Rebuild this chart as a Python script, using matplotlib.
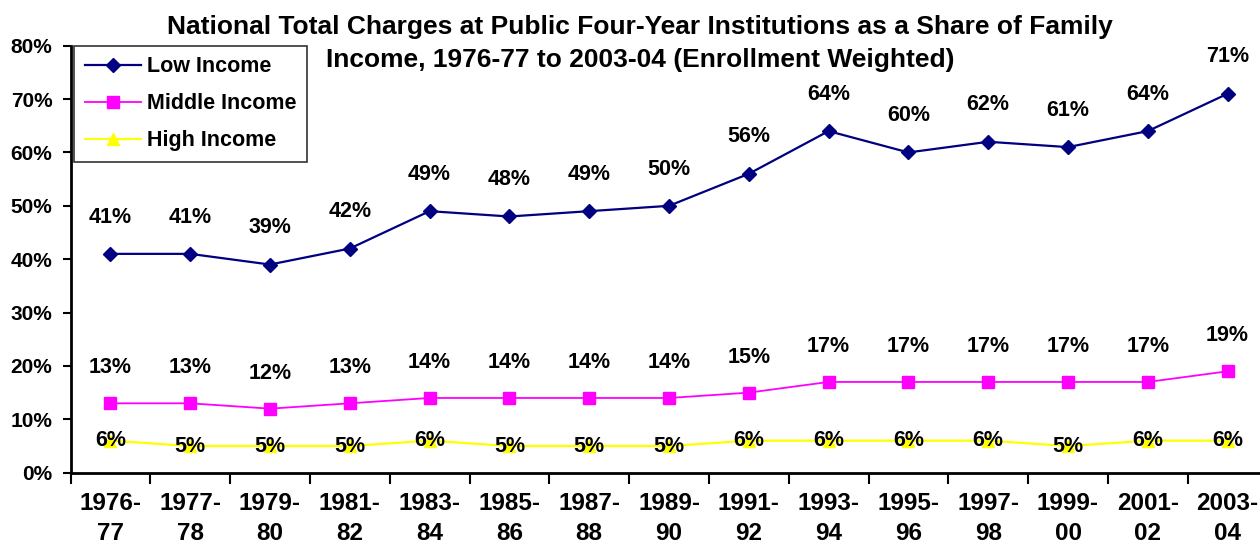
import matplotlib
matplotlib.use("Agg")
import matplotlib.pyplot as plt
import numpy as np

plt.rcParams['font.family'] = ['Liberation Sans', 'DejaVu Sans']
plt.rcParams['font.weight'] = 'bold'

years = ["1976-\n77", "1977-\n78", "1979-\n80", "1981-\n82", "1983-\n84", "1985-\n86",
         "1987-\n88", "1989-\n90", "1991-\n92", "1993-\n94", "1995-\n96", "1997-\n98",
         "1999-\n00", "2001-\n02", "2003-\n04"]
low_income = [41, 41, 39, 42, 49, 48, 49, 50, 56, 64, 60, 62, 61, 64, 71]
middle_income = [13, 13, 12, 13, 14, 14, 14, 14, 15, 17, 17, 17, 17, 17, 19]
high_income = [6, 5, 5, 5, 6, 5, 5, 5, 6, 6, 6, 6, 5, 6, 6]
yticks = [0, 10, 20, 30, 40, 50, 60, 70, 80]

fig = plt.figure(figsize=(12.6, 5.5), dpi=100)
ax = fig.add_axes([70.5/1260, 1-472.7/550, 1197/1260, (472.7-45.7)/550])

x = np.arange(len(years))
ax.plot(x, low_income, color='#000080', lw=1.6, marker='D', ms=7.5, label='Low Income', zorder=3)
ax.plot(x, middle_income, color='#FF00FF', lw=1.3, marker='s', ms=8.5, label='Middle Income', zorder=3)
ax.plot(x, high_income, color='#FFFF00', lw=1.6, marker='^', ms=9, label='High Income', zorder=3)

lab_fs = 15.5
for xi, v in zip(x, low_income):
    ax.annotate(f"{v}%", (xi, v), xytext=(0, 26.5), textcoords='offset points',
                ha='center', va='center', fontsize=lab_fs, fontweight='bold', zorder=5)
for xi, v in zip(x, middle_income):
    ax.annotate(f"{v}%", (xi, v), xytext=(0, 25.5), textcoords='offset points',
                ha='center', va='center', fontsize=lab_fs, fontweight='bold', zorder=5)
for xi, v in zip(x, high_income):
    ax.annotate(f"{v}%", (xi, v), xytext=(0, 0), textcoords='offset points',
                ha='center', va='center', fontsize=lab_fs, fontweight='bold', zorder=5)

ax.set_xlim(-0.5, len(years) - 0.5)
ax.set_ylim(0, 80)
ax.set_yticks(yticks)
ax.set_yticklabels([f"{t}%" for t in yticks], fontsize=15, fontweight='bold')
ax.set_xticks(x)
ax.set_xticklabels(years, fontsize=17.5, fontweight='bold', linespacing=1.38)
ax.set_xticks(np.arange(len(years) + 1) - 0.5, minor=True)
ax.tick_params(axis='x', which='major', length=0, pad=14)
ax.tick_params(axis='x', which='minor', length=8, width=1.5, direction='out')
ax.tick_params(axis='y', length=6, width=1.5, direction='out', pad=7)

for s in ['top', 'right']:
    ax.spines[s].set_visible(False)
for s in ['left', 'bottom']:
    ax.spines[s].set_linewidth(2)
    ax.spines[s].set_color('black')

leg = ax.legend(loc='upper left', bbox_to_anchor=(3.5/1197, 1.0), fontsize=15.5,
                frameon=True, fancybox=False, edgecolor='black', borderpad=0.5,
                labelspacing=0.74, handlelength=2.6, handletextpad=0.3, borderaxespad=0)
leg.get_frame().set_linewidth(1.2)
for t in leg.get_texts():
    t.set_fontweight('bold')

fig.text(0.508, 1-27/550, "National Total Charges at Public Four-Year Institutions as a Share of Family",
         ha='center', va='center', fontsize=19, fontweight='bold')
fig.text(0.508, 1-60.5/550, "Income, 1976-77 to 2003-04 (Enrollment Weighted)",
         ha='center', va='center', fontsize=19, fontweight='bold')

fig.savefig("out.png", dpi=100)
